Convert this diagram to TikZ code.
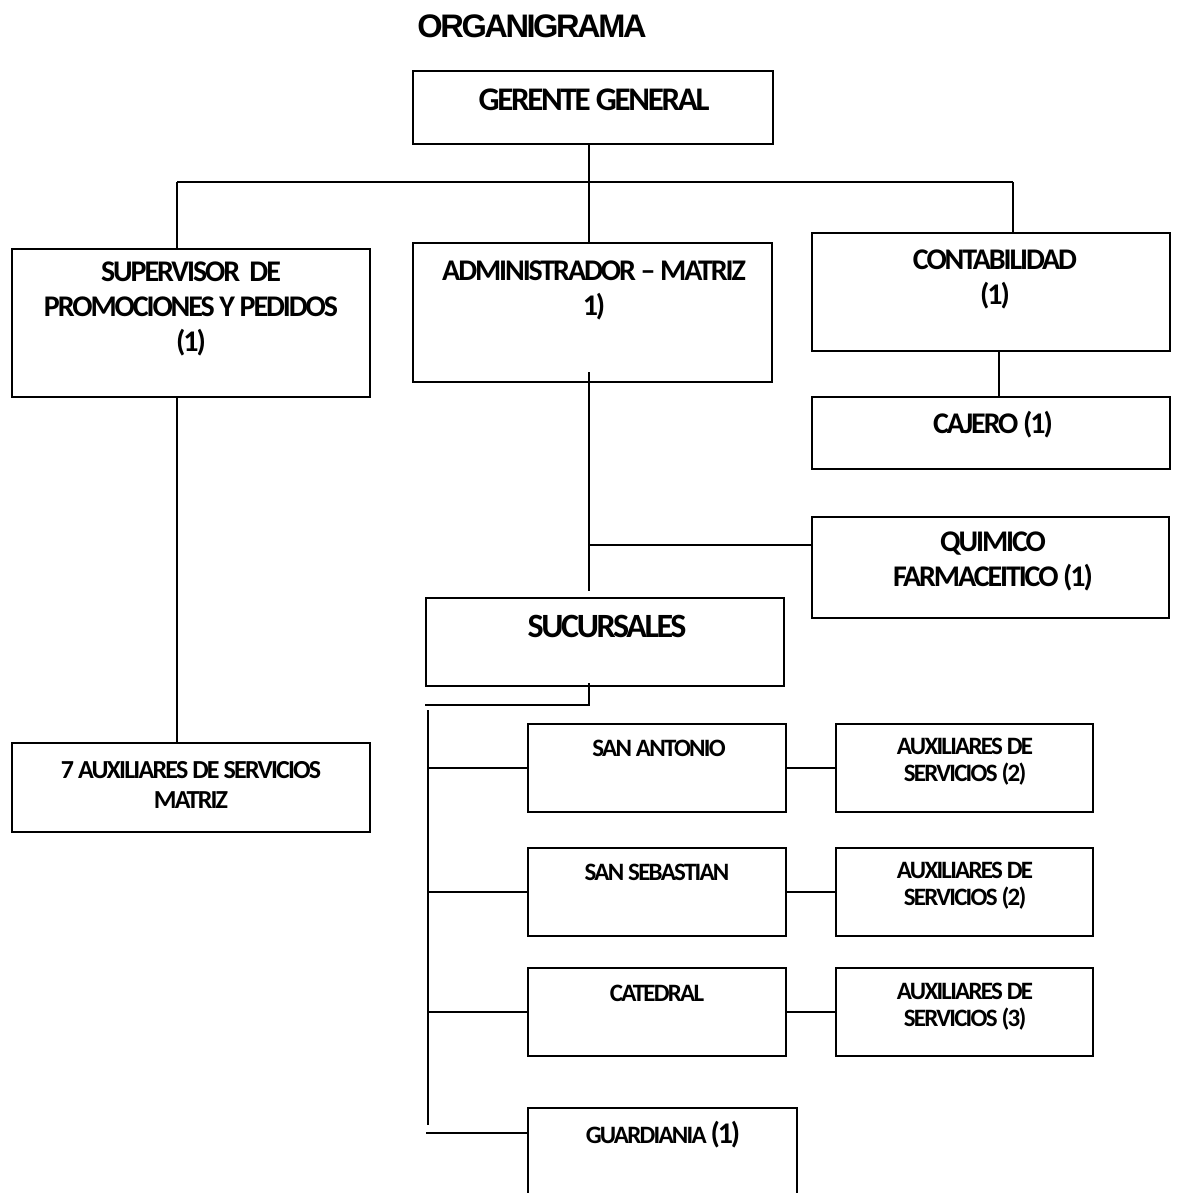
\documentclass[tikz,border=0pt]{standalone}
\usepackage{fontspec}
\setmainfont{Carlito}[LetterSpace=-7]
\newfontfamily\titlefont{Liberation Sans}[LetterSpace=-7.5]

\begin{document}
\begin{tikzpicture}[x=1pt, y=-1pt,
  box/.style={draw, line width=2pt, inner sep=0pt},
  link/.style={line width=2pt},
  big/.style={font=\bfseries\fontsize{30}{35}\selectfont, align=center, inner sep=0pt},
  small/.style={font=\bfseries\fontsize{25}{27}\selectfont, align=center, inner sep=0pt}]
  \useasboundingbox (0,0) rectangle (1177,1193);
  \clip (0,0) rectangle (1177,1193);
  % heading
  \node[font=\titlefont\bfseries\fontsize{32.6}{38}\selectfont, inner sep=0pt] (title) at (532,26) {ORGANIGRAMA};
  % top level and the three departments
  \node[box, minimum width=360, minimum height=73] (gg) at (593,107.5) {};
  \node[big, font=\bfseries\fontsize{33}{38}\selectfont] (gg-txt) at (594,100) {GERENTE GENERAL};
  \node[box, minimum width=358, minimum height=148] (sup) at (191,323) {};
  \node[big] (sup-txt) at (191,309) {SUPERVISOR~~DE\\PROMOCIONES Y PEDIDOS\\(1)};
  \node[box, minimum width=359, minimum height=139] (adm) at (592.5,312.5) {};
  \node[big] (adm-txt) at (594,290) {ADMINISTRADOR – MATRIZ\\1)};
  \node[box, minimum width=358, minimum height=118] (cont) at (991,292) {};
  \node[big] (cont-txt) at (995,279) {CONTABILIDAD\\(1)};
  \node[box, minimum width=358, minimum height=72] (caj) at (991,433) {};
  \node[big] (caj-txt) at (993,425) {CAJERO (1)};
  \node[box, minimum width=357, minimum height=101] (qui) at (990.5,567.5) {};
  \node[big] (qui-txt) at (993,561) {QUIMICO\\FARMACEITICO (1)};
  \node[box, minimum width=358, minimum height=88] (suc) at (605,642) {};
  \node[big, font=\bfseries\fontsize{34}{40}\selectfont] (suc-txt) at (607,626) {SUCURSALES};
  \node[box, minimum width=358, minimum height=89] (aux7) at (191,787.5) {};
  \node[small, font=\bfseries\fontsize{26}{30}\selectfont] (aux7-txt) at (191,785) {7 AUXILIARES DE SERVICIOS\\MATRIZ};
  % branches and their staff
  \node[box, minimum width=258, minimum height=88] (sa) at (657,768) {};
  \node[small] (sa-txt) at (659,748) {SAN ANTONIO};
  \node[box, minimum width=258, minimum height=88] (ss) at (657,892) {};
  \node[small] (ss-txt) at (657,872) {SAN SEBASTIAN};
  \node[box, minimum width=258, minimum height=88] (cat) at (657,1012) {};
  \node[small] (cat-txt) at (657,993) {CATEDRAL};
  \node[box, minimum width=257, minimum height=88] (ax1) at (964.5,768) {};
  \node[small] (ax1-txt) at (965,762) {AUXILIARES DE\\SERVICIOS (2)};
  \node[box, minimum width=257, minimum height=88] (ax2) at (964.5,892) {};
  \node[small] (ax2-txt) at (965,886) {AUXILIARES DE\\SERVICIOS (2)};
  \node[box, minimum width=257, minimum height=88] (ax3) at (964.5,1012) {};
  \node[small] (ax3-txt) at (965,1007) {AUXILIARES DE\\SERVICIOS (3)};
  \node[box, minimum width=269, minimum height=104] (gua) at (662.5,1160) {};
  \node[small] (gua-txt) at (663,1135) {GUARDIANIA {\fontsize{30}{35}\selectfont(1)}};
  % lines under the general manager
  \coordinate (bus-l) at (177,182);
  \coordinate (bus-m) at (589,182);
  \coordinate (bus-r) at (1013,182);
  \draw[link] (gg.south -| bus-m) -- (bus-m);
  \draw[link] (bus-l) -- (bus-r);
  \draw[link] (bus-l) -- (bus-l |- sup.north);
  \draw[link] (bus-m) -- (bus-m |- adm.north);
  \draw[link] (bus-r) -- (bus-r |- cont.north);
  \draw[link] (sup.south -| bus-l) -- (aux7.north -| bus-l);
  \draw[link] ([xshift=8]cont.south) -- ([xshift=8]caj.north);
  % administrator down to the branches
  \coordinate (adm-tail) at (589,372);
  \coordinate (adm-end) at (589,591);
  \coordinate (qui-tap) at (589,545);
  \draw[link] (adm-tail) -- (adm-end);
  \draw[link] (qui-tap) -- (qui-tap -| qui.west);
  \coordinate (suc-tail) at (589,683);
  \coordinate (suc-elbow) at (589,705);
  \draw[link] (suc-tail) -- (suc-elbow) -- (suc-elbow -| suc.west);
  \coordinate (spine-top) at (428,710);
  \coordinate (spine-end) at (428,1125);
  \draw[link] (spine-top) -- (spine-end);
  \foreach \b/\a in {sa/ax1, ss/ax2, cat/ax3} {
    \draw[link] (spine-top |- \b.west) -- (\b.west);
    \draw[link] (\b.east) -- (\a.west);
  }
  \coordinate (gua-tap) at (426,1133);
  \draw[link] (gua-tap) -- (gua-tap -| gua.west);
\end{tikzpicture}
\end{document}
